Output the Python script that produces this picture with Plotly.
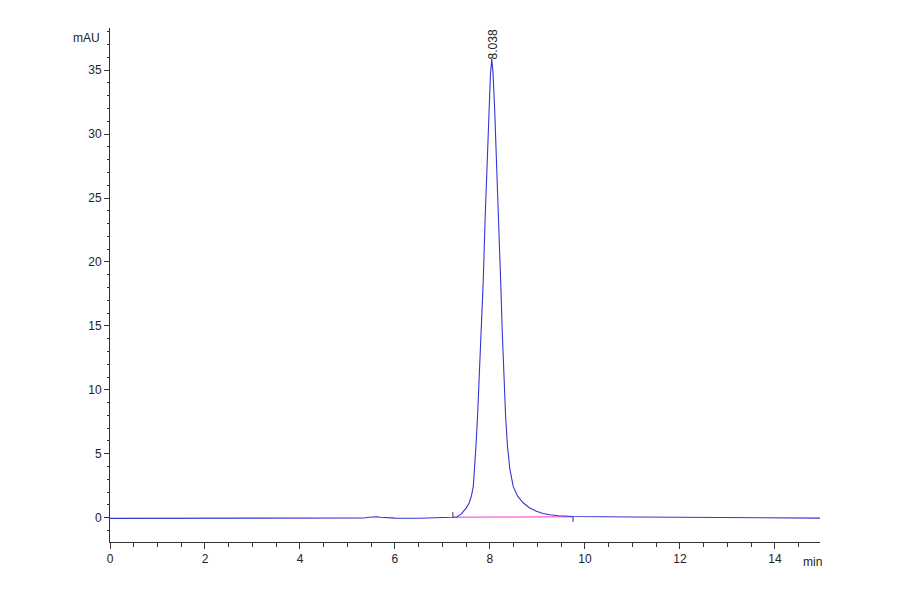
import plotly.graph_objects as go

# chromatogram (time in min, signal in mAU)
tiempo = [0.0, 0.5, 1.0, 1.5, 2.0, 3.0, 4.0, 5.0, 5.35, 5.45, 5.55, 5.62, 5.7, 5.8,
          6.0, 6.5, 7.0, 7.2, 7.3, 7.4, 7.44, 7.5, 7.565, 7.61, 7.65, 7.68, 7.705,
          7.74, 7.775, 7.82, 7.86, 7.9, 7.943, 7.98, 8.01, 8.038, 8.065, 8.1, 8.14,
          8.18, 8.225, 8.26, 8.295, 8.33, 8.37, 8.42, 8.49, 8.58, 8.7, 8.82, 8.98,
          9.12, 9.26, 9.45, 9.75, 10.0, 11.0, 12.0, 13.0, 14.0, 14.95]
senal = [-0.05, -0.05, -0.05, -0.04, -0.04, -0.03, -0.03, -0.03, -0.02, 0.04, 0.09,
         0.08, 0.04, 0.0, -0.03, -0.04, -0.02, 0.03, 0.06, 0.3, 0.5, 0.75, 1.17, 1.7,
         2.45, 3.8, 5.57, 8.0, 10.8, 15.0, 18.6, 23.5, 28.0, 31.9, 34.6, 35.9, 34.8,
         31.9, 28.0, 23.3, 18.6, 14.5, 10.8, 7.9, 5.57, 3.8, 2.45, 1.7, 1.17, 0.8,
         0.5, 0.33, 0.23, 0.15, 0.1, 0.08, 0.05, 0.03, 0.0, -0.02, -0.03]

# integration baseline (start / end)
base_t = [7.22, 9.75]
base_y = [0.04, 0.07]

pico_t = 8.038
pico_y = 35.9
pico_label = "8.038"

fuente = "Liberation Sans, Arial"

fig = go.Figure()

fig.add_trace(go.Scatter(x=base_t, y=base_y, mode="lines",
                         line=dict(color="#ff33cc", width=1), hoverinfo="skip"))
fig.add_trace(go.Scatter(x=tiempo, y=senal, mode="lines",
                         line=dict(color="#3535d0", width=1.1), hoverinfo="skip"))

# small event ticks at start / end of integration
fig.add_shape(type="line", x0=base_t[0], x1=base_t[0], y0=base_y[0], y1=base_y[0] + 0.4,
              line=dict(color="#333366", width=1))
fig.add_shape(type="line", x0=base_t[1], x1=base_t[1], y0=base_y[1], y1=base_y[1] - 0.4,
              line=dict(color="#333366", width=1))

fig.add_annotation(x=pico_t, y=pico_y, text=pico_label, textangle=-90,
                   showarrow=False, xanchor="center", yanchor="bottom", yshift=-3, xshift=1,
                   font=dict(family=fuente, size=12, color="#222222"))

fig.add_annotation(xref="paper", yref="paper", x=-0.011, y=0.98, text="mAU",
                   showarrow=False, xanchor="right", yanchor="middle",
                   font=dict(family=fuente, size=12, color="#222222"))
fig.add_annotation(xref="paper", yref="paper", x=0.989, y=0, yshift=-20, text="min",
                   showarrow=False, xanchor="center", yanchor="middle",
                   font=dict(family=fuente, size=12, color="#222222"))

# page body has an 8px margin, so the figure is a bit smaller than the window
fig.update_layout(
    width=892, height=586,
    margin=dict(l=102, r=80, t=20, b=52),
    plot_bgcolor="white", paper_bgcolor="white",
    showlegend=False,
    font=dict(family=fuente, size=12, color="#222222"),
)
fig.update_xaxes(range=[0, 14.95], showgrid=False, zeroline=False,
                 showline=True, linecolor="#333333", linewidth=1,
                 ticks="outside", ticklen=6, tickcolor="#333333",
                 tick0=0, dtick=2,
                 minor=dict(dtick=0.5, ticks="outside", ticklen=4, tickcolor="#333333"))
fig.update_yaxes(range=[-1.9, 38.3], showgrid=False, zeroline=False,
                 showline=True, linecolor="#333333", linewidth=1,
                 ticks="outside", ticklen=5, tickcolor="#333333",
                 tick0=0, dtick=5,
                 minor=dict(dtick=1, ticks="outside", ticklen=2, tickcolor="#333333"))

fig.write_html("out.html")
